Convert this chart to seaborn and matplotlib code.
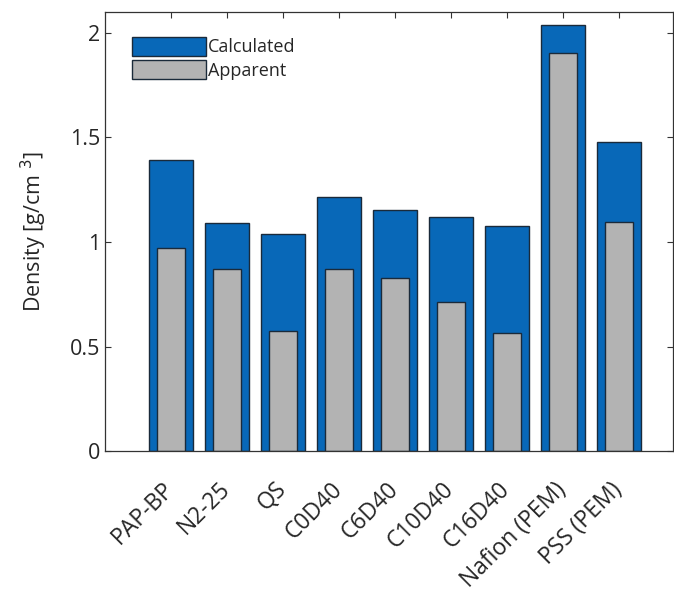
import pandas as pd
import matplotlib
matplotlib.use('Agg')
import matplotlib.pyplot as plt
import matplotlib.patches as mpatches
import matplotlib.transforms as mtransforms
import seaborn as sns

# Data
materials = ['PAP-BP', 'N2-25', 'QS', 'C0D40', 'C6D40', 'C10D40', 'C16D40',
             'Nafion (PEM)', 'PSS (PEM)']
calculated = [1.39, 1.09, 1.04, 1.215, 1.155, 1.12, 1.077, 2.04, 1.478]
apparent = [0.97, 0.87, 0.574, 0.873, 0.828, 0.713, 0.565, 1.904, 1.096]

df = pd.DataFrame({'Material': materials, 'Calculated': calculated, 'Apparent': apparent})

sns.set_style('white')
plt.rcParams['font.family'] = ['Open Sans', 'DejaVu Sans']

blue = '#0868B8'
gray = '#B3B3B3'

fig = plt.figure(figsize=(6.74, 5.99), dpi=100)
ax = fig.add_axes([0.156, 0.247, 0.843, 0.733])

sns.barplot(data=df, x='Material', y='Calculated', color=blue, width=0.78,
            edgecolor='#1a2a3a', linewidth=1.0, saturation=1, ax=ax)
sns.barplot(data=df, x='Material', y='Apparent', color=gray, width=0.5,
            edgecolor='#1a2a3a', linewidth=1.0, saturation=1, ax=ax)

ax.set_xlim(-1.18, 8.97)
ax.set_ylim(0, 2.1)
ax.set_yticks([0, 0.5, 1, 1.5, 2])
ax.set_yticklabels(['0', '0.5', '1', '1.5', '2'], fontsize=15.5)
ax.set_xticks(range(len(materials)))
ax.set_xticklabels(materials, rotation=45, ha='right',
                   rotation_mode='anchor', fontsize=16.5)
ax.set_xlabel('')
ax.set_ylabel('Density [g/cm $^3$]', fontsize=15.5, labelpad=15)

ax.tick_params(direction='in', length=4, width=0.8, top=True, right=True,
               left=True, bottom=True, colors='#333333', labelcolor='#262626')
ax.tick_params(axis='x', pad=19)
for s in ax.spines.values():
    s.set_linewidth(0.9)
    s.set_color('#333333')

# nudge the rotated labels slightly left so their ends sit under the ticks
shift = mtransforms.ScaledTranslation(-0.09, 0, fig.dpi_scale_trans)
for lab in ax.get_xticklabels():
    lab.set_transform(lab.get_transform() + shift)

handles = [mpatches.Patch(facecolor=blue, edgecolor='#1a2a3a', label='Calculated'),
           mpatches.Patch(facecolor=gray, edgecolor='#1a2a3a', label='Apparent')]
ax.legend(handles=handles, loc='upper left', bbox_to_anchor=(0.035, 0.96), frameon=False,
          fontsize=13, handlelength=4.1, handleheight=1.25, handletextpad=0.1,
          labelspacing=0.2, borderaxespad=0)

fig.savefig('out.png', dpi=100)
